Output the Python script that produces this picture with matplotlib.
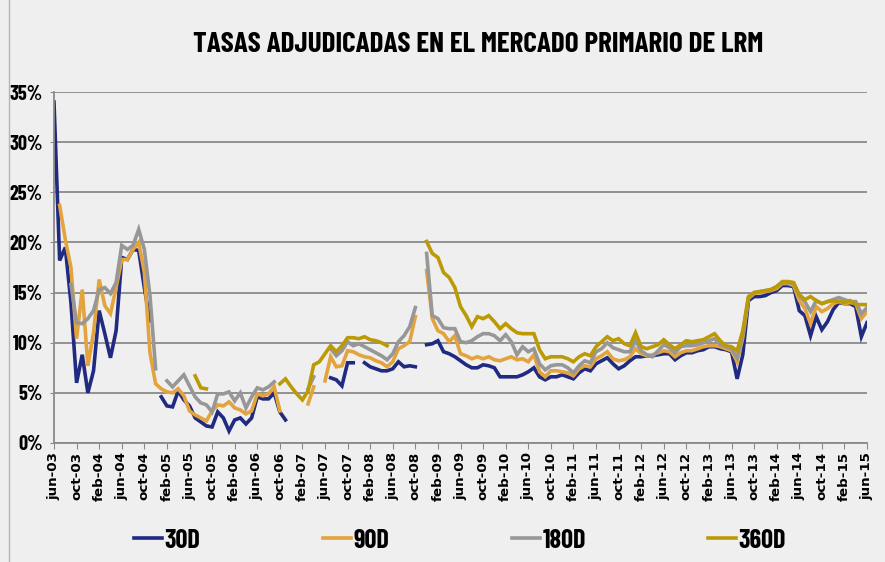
import numpy as np
import matplotlib
matplotlib.use('Agg')
import matplotlib.pyplot as plt
from matplotlib.lines import Line2D

nan = np.nan

# monthly auction rates (%), jun-03 .. jun-15, nan = no auction
r30 = [34.0, 18.2, 19.5, 14.0, 6.0, 8.8, 5.0, 7.2, 13.2, 10.9, 8.5, 11.2,
       18.5, 18.3, 19.3, 19.2, 15.5, 12.2, nan, 4.6, 3.7, 3.6, 5.2, 4.3,
       3.7, 2.5, 2.1, 1.7, 1.6, 3.1, 2.5, 1.2, 2.3, 2.5, 1.9, 2.5,
       4.6, 4.4, 4.4, 5.0, 3.1, 2.3, nan, nan, nan, nan, nan, nan,
       nan, 6.5, 6.3, 5.7, 8.0, 8.0, nan, 8.0, 7.6, 7.4, 7.2, 7.2,
       7.4, 8.1, 7.6, 7.7, 7.6, nan, 9.8, 9.9, 10.2, 9.1, 8.9, 8.6,
       8.2, 7.8, 7.5, 7.5, 7.8, 7.7, 7.5, 6.6, 6.6, 6.6, 6.6, 6.8,
       7.1, 7.5, 6.6, 6.3, 6.6, 6.6, 6.8, 6.6, 6.4, 7.0, 7.4, 7.2,
       7.9, 8.2, 8.5, 7.9, 7.4, 7.7, 8.2, 8.6, 8.6, 8.7, 8.7, 8.8,
       8.9, 8.9, 8.3, 8.7, 9.0, 9.0, 9.2, 9.3, 9.6, 9.6, 9.4, 9.3,
       9.1, 6.4, 8.8, 14.2, 14.6, 14.6, 14.7, 15.0, 15.2, 15.7, 15.7, 15.6,
       13.2, 12.7, 10.7, 12.6, 11.3, 12.1, 13.3, 14.0, 13.9, 13.9, 13.6, 10.6,
       12.0]

r90 = [nan, 23.7, 20.3, 17.5, 10.4, 15.3, 7.7, 11.0, 16.3, 13.7, 12.9, 15.5,
       18.3, 18.3, 19.3, 20.0, 17.0, 9.0, 5.9, 5.4, 5.1, 5.0, 5.4, 4.7,
       3.2, 2.8, 2.5, 2.2, 3.2, 3.8, 3.7, 4.1, 3.5, 3.3, 2.9, 3.2,
       4.9, 4.7, 4.9, 5.6, 3.2, nan, nan, nan, nan, 3.9, 5.6, nan,
       6.2, 8.6, 7.6, 7.7, 9.2, 9.1, 8.8, 8.6, 8.5, 8.2, 8.0, 7.6,
       8.1, 9.4, 9.7, 10.1, 12.6, nan, 17.2, 12.4, 11.2, 10.9, 10.1, 10.7,
       8.9, 8.7, 8.4, 8.6, 8.4, 8.6, 8.3, 8.2, 8.4, 8.6, 8.3, 8.4,
       8.1, 8.8, 7.1, 6.6, 7.2, 7.2, 7.1, 7.0, 6.7, 7.4, 7.7, 7.6,
       8.4, 8.7, 9.1, 8.4, 8.2, 8.3, 8.6, 9.4, 8.9, 8.7, 8.8, 9.0,
       9.2, 9.1, 8.6, 9.0, 9.2, 9.2, 9.4, 9.6, 9.7, 9.7, 9.6, 9.4,
       9.2, 8.1, 10.5, 14.4, 14.9, 15.0, 15.1, 15.2, 15.4, 15.9, 15.9, 15.7,
       14.2, 13.4, 11.9, 13.6, 13.1, 13.4, 13.9, 14.1, 13.9, 14.0, 13.9, 12.4,
       13.1]

r180 = [nan, nan, nan, 15.8, 12.0, 11.9, 12.4, 13.2, 15.3, 15.5, 14.9, 16.0,
        19.7, 19.3, 19.7, 21.3, 19.3, 14.7, 7.4, nan, 6.2, 5.6, 6.2, 6.8,
        5.7, 4.6, 4.0, 3.8, 3.1, 4.9, 4.9, 5.1, 4.2, 5.0, 3.5, 4.6,
        5.5, 5.3, 5.6, 6.1, nan, nan, nan, nan, nan, 5.4, 6.6, nan,
        nan, 9.4, 8.7, 9.2, 10.1, 9.7, 9.9, 9.6, 9.3, 9.0, 8.7, 8.3,
        8.9, 10.1, 10.7, 11.6, 13.5, nan, 18.9, 12.7, 12.4, 11.5, 11.4, 11.4,
        10.1, 10.0, 10.2, 10.6, 10.9, 10.9, 10.7, 10.2, 10.8, 10.1, 8.8, 9.6,
        9.1, 9.4, 7.9, 7.3, 7.7, 7.8, 7.8, 7.5, 7.0, 7.7, 8.2, 8.0,
        9.1, 9.4, 10.0, 9.5, 9.3, 9.1, 9.1, 10.2, 9.2, 8.8, 8.6, 9.2,
        9.8, 9.5, 9.0, 9.6, 9.7, 9.7, 9.8, 10.0, 10.2, 10.4, 9.8, 9.6,
        9.4, 8.5, 10.8, 14.5, 15.0, 15.1, 15.2, 15.3, 15.6, 16.0, 16.0, 15.9,
        14.7, 14.1, 13.1, 14.2, 13.9, 14.1, 14.3, 14.5, 14.3, 14.1, 14.1, 12.9,
        13.5]

r360 = [nan] * 25 + [6.7, 5.5, 5.4] + [nan] * 12 + \
       [5.9, 6.4, 5.6, 4.9, 4.3, 5.2, 7.8, 8.1,
        8.9, 9.7, 9.1, 9.7, 10.5, 10.5, 10.4, 10.6, 10.3, 10.2, 10.0, 9.7,
        nan, nan, nan, nan, nan, nan, 20.1, 18.9, 18.5, 17.0, 16.5, 15.5,
        13.6, 12.7, 11.6, 12.6, 12.4, 12.7, 12.1, 11.4, 11.9, 11.4, 11.0, 10.9,
        10.9, 10.9, 9.3, 8.4, 8.6, 8.6, 8.6, 8.4, 8.1, 8.6, 8.9, 8.7,
        9.6, 10.1, 10.6, 10.2, 10.4, 9.9, 9.7, 11.0, 9.6, 9.4, 9.6, 9.8,
        10.3, 9.8, 9.4, 9.8, 10.2, 10.1, 10.2, 10.3, 10.6, 10.9, 10.2, 9.7,
        9.6, 9.2, 11.2, 14.6, 15.0, 15.1, 15.2, 15.3, 15.6, 16.1, 16.1, 16.0,
        14.8, 14.3, 14.6, 14.2, 13.9, 14.1, 14.2, 14.1, 14.0, 14.2, 13.8, 13.8,
        13.8]

tick_labels = ['jun-03', 'oct-03', 'feb-04', 'jun-04', 'oct-04', 'feb-05', 'jun-05',
               'oct-05', 'feb-06', 'jun-06', 'oct-06', 'feb-07', 'jun-07', 'oct-07',
               'feb-08', 'jun-08', 'oct-08', 'feb-09', 'jun-09', 'oct-09', 'feb-10',
               'jun-10', 'oct-10', 'feb-11', 'jun-11', 'oct-11', 'feb-12', 'jun-12',
               'oct-12', 'feb-13', 'jun-13', 'oct-13', 'feb-14', 'jun-14', 'oct-14',
               'feb-15', 'jun-15']

series_names = ['30D', '90D', '180D', '360D']
colors = ['#1f2a80', '#e3a33d', '#979797', '#bc9a06']

narrow = ['Barlow Condensed', 'DejaVu Sans']

bg = '#efefef'
fig = plt.figure(figsize=(8.85, 5.62), dpi=100, facecolor=bg)
ax = fig.add_axes([54 / 885, 1 - 443 / 562, 813 / 885, 351 / 562])
ax.set_facecolor('none')

months = np.arange(len(r30))
for vals, name, c in zip([r30, r90, r180, r360], series_names, colors):
    ax.plot(months, np.array(vals, dtype=float), color=c, lw=2.6,
            solid_joinstyle='miter', label=name)

ax.set_xlim(0, months[-1])
ax.set_ylim(0, 35)
ax.set_yticks(np.arange(0, 36, 5))
ax.set_yticklabels(['%d%%' % v for v in range(0, 36, 5)],
                   fontfamily=narrow, fontweight='bold', fontsize=14.5)
ax.set_xticks(np.arange(0, len(r30), 4))
ax.set_xticklabels(tick_labels, rotation=90, fontweight='heavy', fontsize=9.7,
                   fontfamily='DejaVu Sans')
ax.grid(axis='y', color='#8a8a8a', lw=1.3)
ax.set_axisbelow(True)
for s in ['top', 'right']:
    ax.spines[s].set_visible(False)
for s in ['left', 'bottom']:
    ax.spines[s].set_color('#8a8a8a')
    ax.spines[s].set_linewidth(1.3)
ax.tick_params(axis='y', length=3, color='#8a8a8a', pad=5)
ax.tick_params(axis='x', length=4.5, color='#8a8a8a', pad=2)

fig.text(0.540, 1 - 52 / 562, 'TASAS ADJUDICADAS EN EL MERCADO PRIMARIO DE LRM',
         ha='center', va='baseline', fontfamily=narrow, fontweight='bold', fontsize=21)

fig.legend(loc='center', bbox_to_anchor=(0.52, 0.038), ncol=4, frameon=False,
           handlelength=1.05, handletextpad=0.1, columnspacing=4.65,
           prop={'family': narrow, 'weight': 'bold', 'size': 19})

fig.add_artist(Line2D([9 / 885, 9 / 885], [0, 1], color='#b5b5b5', lw=1))

fig.savefig('out.png', dpi=100, facecolor=bg)
